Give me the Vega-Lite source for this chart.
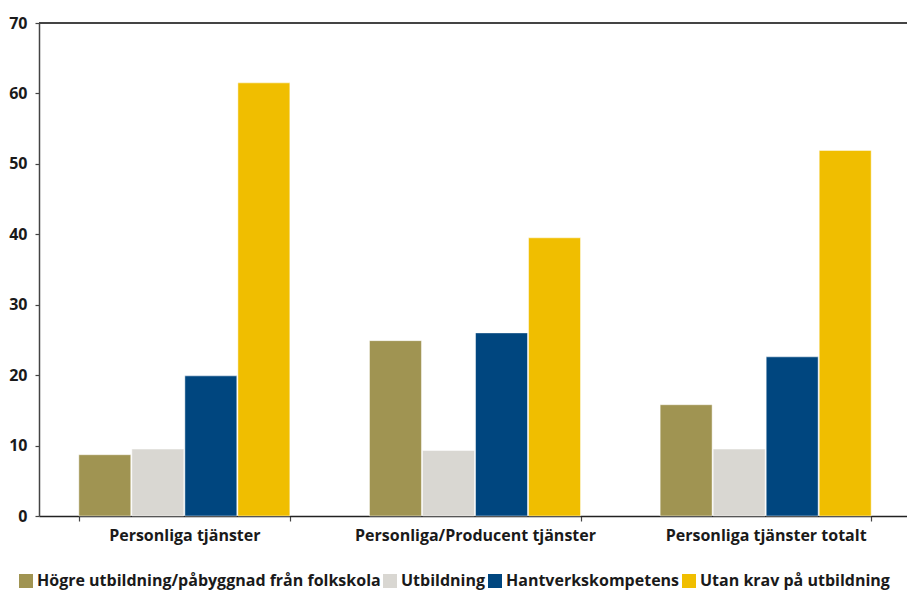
{
  "$schema": "https://vega.github.io/schema/vega-lite/v6.json",
  "width": 872,
  "height": 493,
  "autosize": {"type": "none"},
  "padding": {"left": 39, "top": 23, "right": 0, "bottom": 75},
  "background": "white",
  "config": {
    "view": {"stroke": null},
    "font": "Open Sans",
    "axis": {"labelFont": "Open Sans", "labelFontWeight": "bold", "labelColor": "#1a1a1a", "labelFontSize": 16, "labelLimit": 0, "domainColor": "#444444", "tickColor": "#444444", "domainWidth": 1.5, "tickWidth": 1.2},
    "legend": {"labelFont": "Open Sans", "labelFontWeight": "bold", "labelColor": "#1a1a1a", "labelFontSize": 16, "labelLimit": 0}
  },
  "data": {
    "values": [
      {"grupp": "Personliga tjänster", "kategori": "Högre utbildning/påbyggnad från folkskola", "andel": 8.7},
      {"grupp": "Personliga tjänster", "kategori": "Utbildning", "andel": 9.5},
      {"grupp": "Personliga tjänster", "kategori": "Hantverkskompetens", "andel": 19.9},
      {"grupp": "Personliga tjänster", "kategori": "Utan krav på utbildning", "andel": 61.5},
      {"grupp": "Personliga/Producent tjänster", "kategori": "Högre utbildning/påbyggnad från folkskola", "andel": 24.9},
      {"grupp": "Personliga/Producent tjänster", "kategori": "Utbildning", "andel": 9.3},
      {"grupp": "Personliga/Producent tjänster", "kategori": "Hantverkskompetens", "andel": 26.0},
      {"grupp": "Personliga/Producent tjänster", "kategori": "Utan krav på utbildning", "andel": 39.5},
      {"grupp": "Personliga tjänster totalt", "kategori": "Högre utbildning/påbyggnad från folkskola", "andel": 15.8},
      {"grupp": "Personliga tjänster totalt", "kategori": "Utbildning", "andel": 9.5},
      {"grupp": "Personliga tjänster totalt", "kategori": "Hantverkskompetens", "andel": 22.6},
      {"grupp": "Personliga tjänster totalt", "kategori": "Utan krav på utbildning", "andel": 51.9}
    ]
  },
  "layer": [
    {
      "mark": {"type": "bar", "stroke": "white", "strokeWidth": 0.8, "strokeOpacity": 0.6},
      "encoding": {
        "x": {
          "field": "grupp", "type": "nominal", "sort": null,
          "scale": {"paddingInner": 0.274, "paddingOuter": 0.137},
          "axis": {"title": null, "labelAngle": 0, "tickBand": "extent", "tickSize": 5, "labelPadding": 6, "domainColor": "#222222", "domainWidth": 1.5}
        },
        "xOffset": {
          "field": "kategori", "type": "nominal", "sort": null,
          "scale": {"paddingInner": 0.02}
        },
        "y": {
          "field": "andel", "type": "quantitative",
          "scale": {"domain": [0, 70], "nice": false},
          "axis": {"title": null, "values": [0, 10, 20, 30, 40, 50, 60, 70], "grid": false, "tickSize": 4, "labelPadding": 8}
        },
        "color": {
          "field": "kategori", "type": "nominal", "sort": null,
          "scale": {
            "domain": ["Högre utbildning/påbyggnad från folkskola", "Utbildning", "Hantverkskompetens", "Utan krav på utbildning"],
            "range": ["#A09452", "#D9D7D2", "#00467F", "#F0BE00"]
          },
          "legend": {
            "title": null, "orient": "none", "direction": "horizontal", "columns": 4,
            "legendX": -21, "legendY": 550,
            "symbolType": "square", "symbolSize": 196, "symbolStrokeWidth": 0,
            "columnPadding": 1, "labelOffset": 3
          }
        }
      }
    },
    {
      "mark": {"type": "rule", "color": "#444444", "strokeWidth": 1.5},
      "encoding": {"y": {"datum": 70}}
    }
  ]
}
